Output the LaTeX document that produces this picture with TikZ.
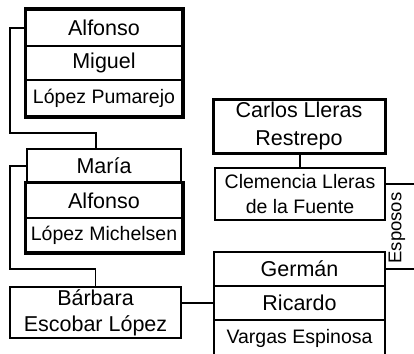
\documentclass[tikz,border=0pt]{standalone}
\usepackage{fontspec}
\setmainfont{Liberation Sans}
\begin{document}
\begin{tikzpicture}[x=1pt,y=-1pt,
	cell/.style={draw,line width=1.3pt,inner sep=0pt,align=center,font=\fontsize{21.5}{26}\selectfont},
	small/.style={font=\fontsize{19.5}{25}\selectfont},
	heavy/.style={line width=3pt},
	link/.style={line width=1.3pt}]
	\useasboundingbox (0,0) rectangle (414,353);
	
	\node[cell,line width=2pt,minimum width=156,minimum height=36] (alf1) at (104,28) {Alfonso};
	\node[cell,line width=2pt,minimum width=156,minimum height=34] (mig) at (104,63) {Miguel};
	\node[cell,small,line width=2pt,minimum width=156,minimum height=36] (lpum) at (104,98) {López Pumarejo};
	\draw[heavy] (alf1.north west) rectangle (lpum.south east);
	
	\node[cell,minimum width=154,minimum height=34] (maria) at (104,166) {María};
	\node[cell,line width=2pt,minimum width=156,minimum height=35] (alf2) at (104,200.5) {Alfonso};
	\node[cell,small,line width=2pt,minimum width=156,minimum height=34] (lmich) at (104,235) {López Michelsen};
	\draw[heavy] (alf2.north west) rectangle (lmich.south east);
	
	\node[cell,minimum width=171,minimum height=51] (barb) at (95.5,312.5) {Bárbara\\Escobar López};
	
	\node[cell,heavy,minimum width=172,minimum height=54,font=\fontsize{21.5}{28}\selectfont] (carlos) at (299,126) {Carlos Lleras\\Restrepo};
	\node[cell,small,minimum width=170,minimum height=52] (clem) at (300,194) {Clemencia Lleras\\de la Fuente};
	
	\node[cell,line width=1.6pt,minimum width=171,minimum height=34] (germ) at (299.5,269) {Germán};
	\node[cell,line width=1.6pt,minimum width=171,minimum height=34] (ric) at (299.5,303) {Ricardo};
	\node[cell,small,line width=1.6pt,minimum width=171,minimum height=36] (varg) at (299.5,338) {Vargas Espinosa};
	
	\coordinate (k1) at (10,133);
	\coordinate (k2) at (10,269);
	\draw[link] (alf1.west) -| (k1) -| ([xshift=-8pt]maria.north);
	\draw[link] (maria.west) -| (k2) -| (barb.north);
	\draw[link] (ric.west) -- (ric.west -| barb.east);
	\draw[link] (carlos.south -| clem.north) -- (clem.north);
	
	\draw[link] ([yshift=10pt]clem.east) -- ++(40,0);
	\draw[link] (germ.east) -- ++(40,0);
	\node[rotate=90,inner sep=0pt,font=\fontsize{18.5}{22}\selectfont] (esp) at (397,228) {Esposos};
\end{tikzpicture}
\end{document}
